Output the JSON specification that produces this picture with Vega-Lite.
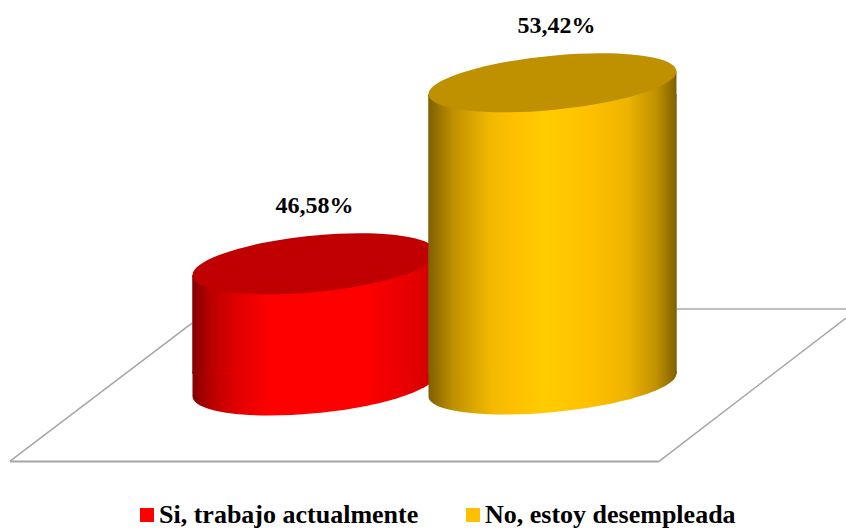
{
"$schema":"https://vega.github.io/schema/vega-lite/v6.json",
"width":846,"height":529,"padding":0,"autosize":{"type":"none"},"background":"#ffffff",
"config":{"view":{"stroke":null}},
"data":{"values":[
{"respuesta":"Si, trabajo actualmente","orden":1,"valor":46.58,"etiqueta":"46,58%"},
{"respuesta":"No, estoy desempleada","orden":2,"valor":53.42,"etiqueta":"53,42%"}
]},
"layer":[
{"data":{"values":[{"borde":"frente"}]},"mark":{"type":"rule","stroke":"#A6A6A6","strokeWidth":2},"encoding":{"x":{"datum":-0.2793,"type":"quantitative","axis":null,"scale":{"domain":[-0.3214,3.2332],"nice":false,"zero":false,"padding":0}},"x2":{"datum":2.4434},"y":{"datum":39.11,"type":"quantitative","axis":null,"scale":{"domain":[36.56,56.55],"nice":false,"zero":false,"padding":0}},"y2":{"datum":39.11}}},
{"data":{"values":[{"borde":"izquierda"}]},"mark":{"type":"rule","stroke":"#A6A6A6","strokeWidth":1.5},"encoding":{"x":{"datum":-0.2793,"type":"quantitative","axis":null},"x2":{"datum":0.4854},"y":{"datum":39.128,"type":"quantitative","axis":null},"y2":{"datum":44.343}}},
{"data":{"values":[{"borde":"derecha"}]},"mark":{"type":"rule","stroke":"#A6A6A6","strokeWidth":1.5},"encoding":{"x":{"datum":2.4434,"type":"quantitative","axis":null},"x2":{"datum":3.2332},"y":{"datum":39.09,"type":"quantitative","axis":null},"y2":{"datum":44.532}}},
{"data":{"values":[{"borde":"fondo"}]},"mark":{"type":"rule","stroke":"#BFBFBF","strokeWidth":2},"encoding":{"x":{"datum":2.519,"type":"quantitative","axis":null},"x2":{"datum":3.2332},"y":{"datum":44.872,"type":"quantitative","axis":null},"y2":{"datum":44.872}}},

{"transform":[{"filter":"datum.orden==1"}],"mark":{"type":"point","filled":true,"opacity":1,"size":59536,"shape":"M-1,-0.1127 L1,-0.1127 L1,-0.0927 C1,0.0353 0.5523,0.1808 0,0.232 C-0.5523,0.2832 -1,0.2207 -1,0.0927 Z","fill":{"gradient":"linear","x1":0,"x2":1,"y1":0,"y2":0,"stops":[{"offset":0,"color":"#850000"},{"offset":0.08,"color":"#BB0000"},{"offset":0.18,"color":"#E00000"},{"offset":0.32,"color":"#FF0000"},{"offset":0.7,"color":"#FF0000"},{"offset":0.93,"color":"#E00000"},{"offset":1,"color":"#C00000"}]}},"encoding":{"x":{"field":"orden","type":"quantitative","axis":null},"y":{"datum":42,"type":"quantitative","axis":null}}},
{"mark":{"type":"bar","orient":"vertical","size":200,"yOffset":11.5},"encoding":{"x":{"field":"orden","type":"quantitative","axis":null},"y":{"field":"valor","type":"quantitative","axis":null},"y2":{"datum":42.43},"color":{"field":"respuesta","type":"nominal","scale":{"domain":["Si, trabajo actualmente","No, estoy desempleada"],"range":["#FF0000","#FFC000"]},"legend":{"title":null,"orient":"none","legendX":134,"legendY":502,"direction":"horizontal","columns":2,"symbolType":"square","symbolSize":196,"symbolStrokeWidth":0,"labelFont":"Liberation Serif","labelFontWeight":"bold","labelFontSize":26,"labelColor":"#000000","labelLimit":400,"columnPadding":41,"labelOffset":-1}}}},
{"transform":[{"filter":"datum.orden==1"}],"mark":{"type":"bar","orient":"vertical","size":244.5,"yOffset":11.5,"fill":{"gradient":"linear","x1":0,"x2":1,"y1":0,"y2":0,"stops":[{"offset":0,"color":"#850000"},{"offset":0.08,"color":"#BB0000"},{"offset":0.18,"color":"#E00000"},{"offset":0.32,"color":"#FF0000"},{"offset":0.7,"color":"#FF0000"},{"offset":0.93,"color":"#E00000"},{"offset":1,"color":"#C00000"}]}},"encoding":{"x":{"field":"orden","type":"quantitative","axis":null},"y":{"field":"valor","type":"quantitative","axis":null},"y2":{"datum":42.43}}},
{"transform":[{"filter":"datum.orden==1"}],"mark":{"type":"point","filled":true,"opacity":1,"size":59536,"shape":"M-1,0.0927 L1,-0.0927 L1,0.1127 L-1,0.1127 Z","fill":{"gradient":"linear","x1":0,"x2":1,"y1":0,"y2":0,"stops":[{"offset":0,"color":"#850000"},{"offset":0.08,"color":"#BB0000"},{"offset":0.18,"color":"#E00000"},{"offset":0.32,"color":"#FF0000"},{"offset":0.7,"color":"#FF0000"},{"offset":0.93,"color":"#E00000"},{"offset":1,"color":"#C00000"}]}},"encoding":{"x":{"field":"orden","type":"quantitative","axis":null},"y":{"field":"valor","type":"quantitative","axis":null}}},
{"transform":[{"filter":"datum.orden==1"}],"mark":{"type":"point","filled":true,"opacity":1,"size":59536,"fill":"#C00000","shape":"M1,-0.0927 C1,0.0353 0.5523,0.1808 0,0.232 C-0.5523,0.2832 -1,0.2207 -1,0.0927 C-1,-0.0353 -0.5523,-0.1808 0,-0.232 C0.5523,-0.2832 1,-0.2207 1,-0.0927 Z"},"encoding":{"x":{"field":"orden","type":"quantitative","axis":null},"y":{"field":"valor","type":"quantitative","axis":null}}},

{"transform":[{"filter":"datum.orden==2"}],"mark":{"type":"point","filled":true,"opacity":1,"size":61504,"shape":"M-1,-0.1127 L1,-0.1127 L1,-0.0927 C1,0.0283 0.5523,0.1678 0,0.219 C-0.5523,0.2702 -1,0.2137 -1,0.0927 Z","fill":{"gradient":"linear","x1":0,"x2":1,"y1":0,"y2":0,"stops":[{"offset":0,"color":"#7F6000"},{"offset":0.1,"color":"#BF9000"},{"offset":0.25,"color":"#F2B800"},{"offset":0.35,"color":"#FFC000"},{"offset":0.47,"color":"#FFCC00"},{"offset":0.65,"color":"#FFC000"},{"offset":0.8,"color":"#EFB400"},{"offset":0.92,"color":"#BF9000"},{"offset":1,"color":"#7F6000"}]}},"encoding":{"x":{"field":"orden","type":"quantitative","axis":null},"y":{"datum":42,"type":"quantitative","axis":null}}},
{"transform":[{"filter":"datum.orden==2"}],"mark":{"type":"bar","orient":"vertical","size":248.5,"yOffset":11.5,"fill":{"gradient":"linear","x1":0,"x2":1,"y1":0,"y2":0,"stops":[{"offset":0,"color":"#7F6000"},{"offset":0.1,"color":"#BF9000"},{"offset":0.25,"color":"#F2B800"},{"offset":0.35,"color":"#FFC000"},{"offset":0.47,"color":"#FFCC00"},{"offset":0.65,"color":"#FFC000"},{"offset":0.8,"color":"#EFB400"},{"offset":0.92,"color":"#BF9000"},{"offset":1,"color":"#7F6000"}]}},"encoding":{"x":{"field":"orden","type":"quantitative","axis":null},"y":{"field":"valor","type":"quantitative","axis":null},"y2":{"datum":42.43}}},
{"transform":[{"filter":"datum.orden==2"}],"mark":{"type":"point","filled":true,"opacity":1,"size":61504,"shape":"M-1,0.0927 L1,-0.0927 L1,0.1127 L-1,0.1127 Z","fill":{"gradient":"linear","x1":0,"x2":1,"y1":0,"y2":0,"stops":[{"offset":0,"color":"#7F6000"},{"offset":0.1,"color":"#BF9000"},{"offset":0.25,"color":"#F2B800"},{"offset":0.35,"color":"#FFC000"},{"offset":0.47,"color":"#FFCC00"},{"offset":0.65,"color":"#FFC000"},{"offset":0.8,"color":"#EFB400"},{"offset":0.92,"color":"#BF9000"},{"offset":1,"color":"#7F6000"}]}},"encoding":{"x":{"field":"orden","type":"quantitative","axis":null},"y":{"field":"valor","type":"quantitative","axis":null}}},
{"transform":[{"filter":"datum.orden==2"}],"mark":{"type":"point","filled":true,"opacity":1,"size":61504,"fill":"#BF9000","shape":"M1,-0.0927 C1,0.0283 0.5523,0.1678 0,0.219 C-0.5523,0.2702 -1,0.2137 -1,0.0927 C-1,-0.0283 -0.5523,-0.1678 0,-0.219 C0.5523,-0.2702 1,-0.2137 1,-0.0927 Z"},"encoding":{"x":{"field":"orden","type":"quantitative","axis":null},"y":{"field":"valor","type":"quantitative","axis":null}}},

{"transform":[{"filter":"datum.orden==1"}],"mark":{"type":"text","align":"center","baseline":"middle","font":"Liberation Serif","fontWeight":"bold","fontSize":24,"color":"#000000","dy":-58},"encoding":{"x":{"field":"orden","type":"quantitative","axis":null},"y":{"field":"valor","type":"quantitative","axis":null},"text":{"field":"etiqueta"}}},
{"transform":[{"filter":"datum.orden==2"}],"mark":{"type":"text","align":"center","baseline":"middle","font":"Liberation Serif","fontWeight":"bold","fontSize":24,"color":"#000000","dy":-57,"dx":4},"encoding":{"x":{"field":"orden","type":"quantitative","axis":null},"y":{"field":"valor","type":"quantitative","axis":null},"text":{"field":"etiqueta"}}}
]
}
